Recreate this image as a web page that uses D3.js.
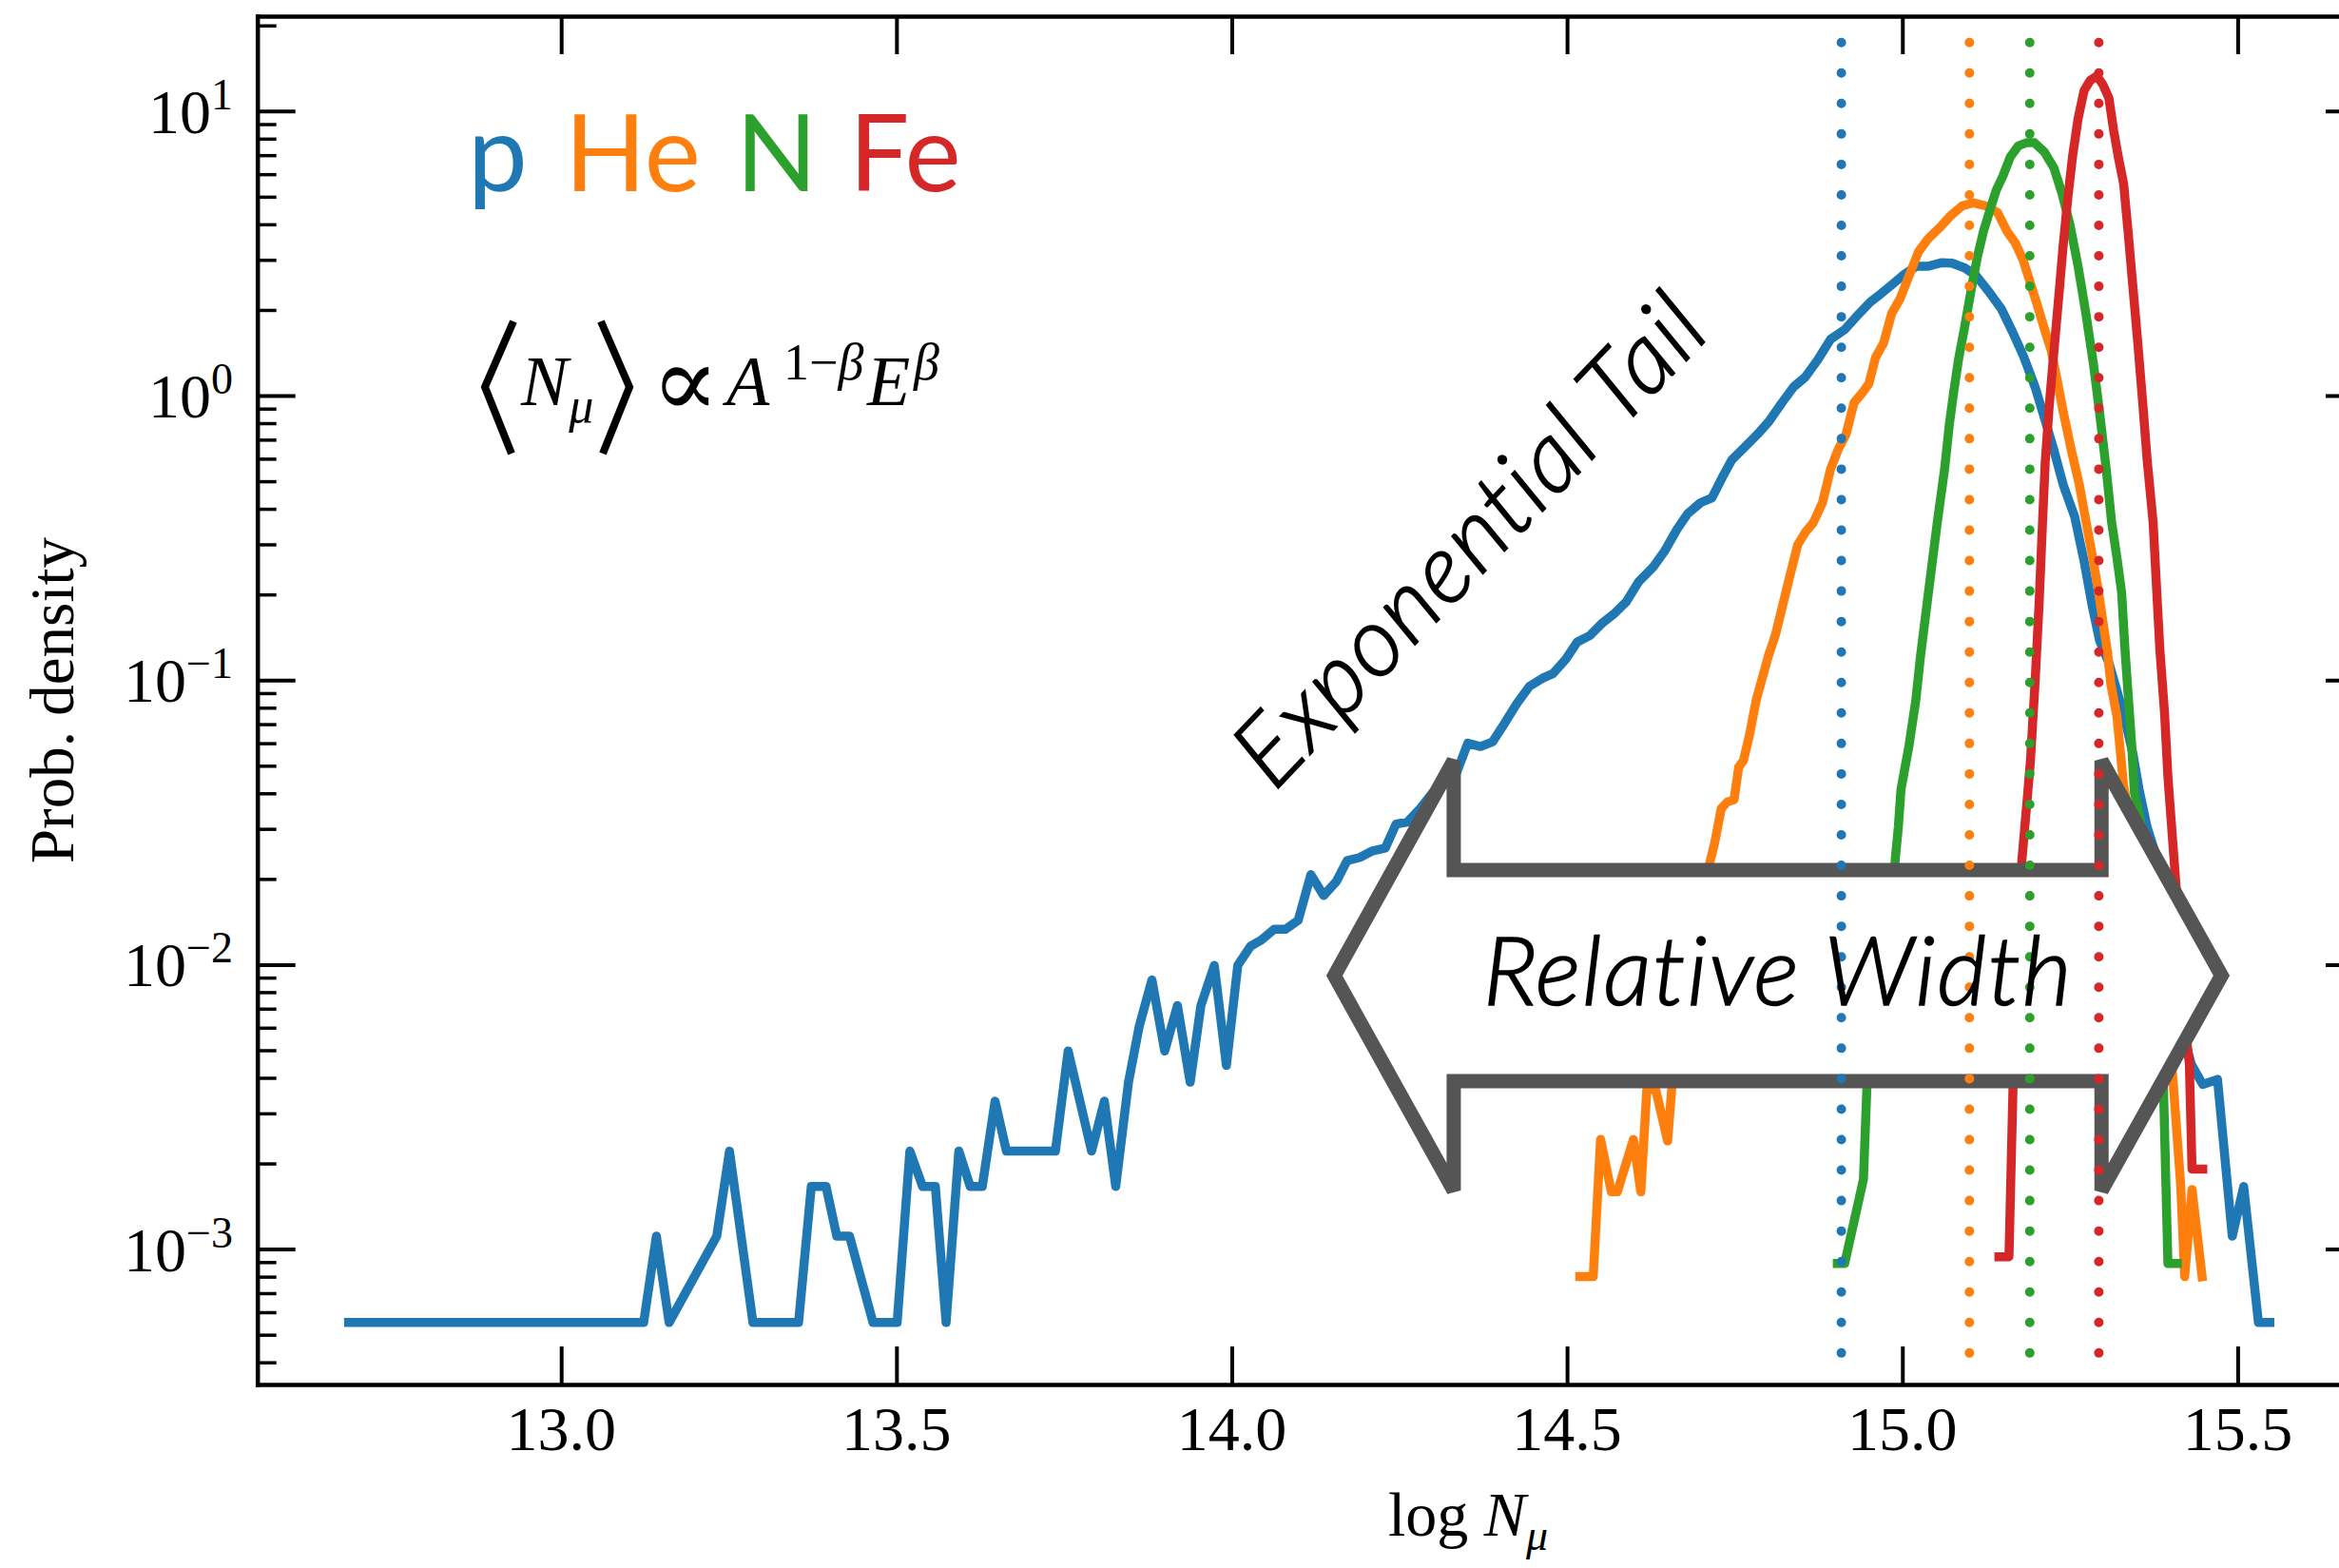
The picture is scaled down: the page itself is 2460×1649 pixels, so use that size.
<!DOCTYPE html>
<html>
<head>
<meta charset="utf-8">
<script src="https://d3js.org/d3.v7.min.js"></script>
<style>
html,body{margin:0;padding:0;background:#fff;overflow:hidden;}
svg{display:block;}
.serif{font-family:"Liberation Serif","Times New Roman",serif;}
.sans{font-family:Lato,"Open Sans",sans-serif;}
</style>
</head>
<body>
<svg id="chart" width="2460" height="1649"></svg>
<script>
// ---------------- data ----------------
const pX = [12.683,13.123,13.142,13.161,13.232,13.251,13.286,13.354,13.373,13.395,13.411,13.430,13.465,13.501,13.520,13.539,13.558,13.574,13.593,13.610,13.628,13.647,13.664,13.737,13.756,13.791,13.810,13.827,13.846,13.862,13.881,13.900,13.919,13.938,13.954,13.974,13.992,14.009,14.028,14.044,14.063,14.080,14.099,14.118,14.137,14.156,14.172,14.191,14.210,14.229,14.245,14.262,14.281,14.300,14.316,14.333,14.352,14.371,14.389,14.406,14.425,14.444,14.463,14.479,14.498,14.515,14.534,14.553,14.571,14.588,14.607,14.628,14.645,14.664,14.680,14.699,14.716,14.733,14.746,14.765,14.784,14.801,14.819,14.838,14.855,14.874,14.893,14.914,14.931,14.952,14.968,14.985,15.003,15.021,15.039,15.058,15.074,15.093,15.110,15.129,15.148,15.164,15.181,15.198,15.212,15.226,15.240,15.257,15.271,15.283,15.294,15.308,15.320,15.332,15.344,15.353,15.365,15.384,15.408,15.431,15.448,15.470,15.492,15.509,15.531,15.548];
const pY = [5.52e-4,5.52e-4,1.11e-3,5.52e-4,1.11e-3,2.21e-3,5.52e-4,5.52e-4,1.66e-3,1.66e-3,1.11e-3,1.11e-3,5.52e-4,5.52e-4,2.21e-3,1.66e-3,1.66e-3,5.52e-4,2.21e-3,1.66e-3,1.66e-3,3.31e-3,2.21e-3,2.21e-3,4.97e-3,2.21e-3,3.31e-3,1.66e-3,3.86e-3,6.07e-3,8.83e-3,4.97e-3,7.18e-3,3.86e-3,7.18e-3,9.94e-3,4.42e-3,9.94e-3,0.0116,0.0122,0.0133,0.0133,0.0143,0.0207,0.0175,0.0196,0.0232,0.0238,0.0251,0.0257,0.0312,0.0317,0.0354,0.0403,0.0446,0.0458,0.060,0.0584,0.0607,0.070,0.0826,0.0951,0.1014,0.1054,0.1183,0.136,0.1434,0.159,0.1717,0.188,0.222,0.249,0.283,0.339,0.385,0.42,0.437,0.524,0.596,0.660,0.731,0.811,0.933,1.074,1.16,1.337,1.578,1.705,1.89,2.13,2.28,2.46,2.67,2.85,2.85,2.93,2.92,2.81,2.64,2.32,2.01,1.68,1.37,1.07,0.832,0.643,0.485,0.375,0.262,0.183,0.138,0.115,0.0916,0.0727,0.0548,0.0413,0.0304,0.022,0.007,4.46e-3,3.79e-3,3.95e-3,1.11e-3,1.66e-3,5.52e-4,5.52e-4];

const heX = [14.519,14.539,14.550,14.566,14.575,14.599,14.610,14.619,14.632,14.650,14.660,14.675,14.692,14.713,14.720,14.730,14.739,14.749,14.756,14.763,14.772,14.782,14.800,14.811,14.833,14.844,14.855,14.867,14.881,14.893,14.905,14.916,14.928,14.940,14.950,14.960,14.972,14.984,14.997,15.009,15.024,15.038,15.056,15.072,15.089,15.106,15.125,15.142,15.156,15.168,15.180,15.189,15.201,15.212,15.222,15.231,15.240,15.252,15.264,15.274,15.283,15.292,15.299,15.306,15.311,15.320,15.325,15.330,15.340,15.355,15.370,15.385,15.403,15.415,15.421,15.432,15.447];
const heY = [8.0e-4,8.0e-4,2.43e-3,1.59e-3,1.59e-3,2.43e-3,1.59e-3,3.65e-3,3.65e-3,2.4e-3,4.8e-3,8e-3,0.014,0.0229,0.0267,0.0354,0.0373,0.038,0.0495,0.0521,0.064,0.085,0.121,0.145,0.236,0.299,0.33,0.357,0.421,0.552,0.652,0.731,0.945,1.02,1.10,1.36,1.53,1.94,2.20,2.60,3.2,3.55,3.90,4.29,4.64,4.76,4.64,4.40,3.78,3.45,3.00,2.57,2.09,1.71,1.44,1.13,0.875,0.643,0.485,0.36,0.276,0.208,0.161,0.125,0.0964,0.0746,0.0562,0.0424,0.032,0.022,0.013,0.008,4.1e-3,1.69e-3,8.0e-4,1.62e-3,8.0e-4];

const nX = [14.903,14.914,14.942,14.947,14.960,14.975,14.989,14.994,14.998,15.010,15.020,15.027,15.040,15.052,15.063,15.070,15.077,15.084,15.093,15.103,15.112,15.121,15.131,15.140,15.150,15.161,15.173,15.185,15.197,15.212,15.226,15.238,15.250,15.262,15.273,15.285,15.294,15.304,15.312,15.320,15.327,15.332,15.337,15.342,15.346,15.356,15.370,15.388,15.396,15.410];
const nY = [8.9e-4,8.9e-4,1.76e-3,3.65e-3,7e-3,0.013,0.0229,0.0304,0.0413,0.059,0.0848,0.121,0.213,0.357,0.552,0.79,1.047,1.35,1.75,2.38,3.08,3.78,4.52,5.27,5.92,6.90,7.55,7.74,7.74,7.17,6.31,5.14,3.98,2.85,1.99,1.29,0.875,0.552,0.36,0.269,0.203,0.128,0.087,0.0592,0.0403,0.0312,0.015,5e-3,8.9e-4,8.9e-4];

const feX = [15.144,15.159,15.165,15.178,15.185,15.191,15.198,15.204,15.209,15.213,15.219,15.226,15.233,15.240,15.247,15.254,15.262,15.271,15.280,15.290,15.299,15.308,15.315,15.322,15.330,15.337,15.344,15.351,15.358,15.365,15.374,15.379,15.384,15.391,15.396,15.403,15.408,15.415,15.422,15.428,15.432,15.448];
const feY = [9.4e-4,9.4e-4,3.7e-3,0.0229,0.0354,0.052,0.099,0.188,0.357,0.58,0.92,1.43,2.20,3.41,5.01,6.99,9.39,11.8,12.8,13.3,12.4,11.1,8.58,6.90,5.55,3.68,2.38,1.54,0.97,0.596,0.357,0.213,0.128,0.0765,0.0458,0.0274,0.0191,0.010,6e-3,4.47e-3,1.91e-3,1.91e-3];

// mean positions (dotted vertical lines)
const species = ["p","He","N","Fe"];
const colors = ["#1f77b4","#ff7f0e","#2ca02c","#d62728"];
const meanX = [14.909,15.100,15.190,15.293];
const vlineY = [17.42, 4.31e-4];

// axis ticks
const xTicks = [13.0,13.5,14.0,14.5,15.0,15.5];
const xTickLabels = ["13.0","13.5","14.0","14.5","15.0","15.5"];
const yMajor = [1e-3,1e-2,1e-1,1,10];
const yExp = ["\u22123","\u22122","\u22121","0","1"];
const yMinor = [];
[-4,-3,-2,-1,0,1].forEach(e=>{for(let m=2;m<=9;m++){yMinor.push(m*Math.pow(10,e));}});

// double arrow annotation (data coords)
const arrowXs = [14.153,14.331,15.297,15.476];        // tipL, notchL, notchR, tipR
const arrowYs = [0.05208,0.02149,0.009146,0.003893,0.001606]; // barbTop, shaftTop, center, shaftBottom, barbBottom

// ---------------- scales ----------------
const xDomain = [12.547,15.688];
const yDomain = [3.343e-4,21.56];
const L=270.7, R=2486, T=17, B=1456;
const x = d3.scaleLinear().domain(xDomain).range([L,R]);
const y = d3.scaleLog().domain(yDomain).range([B,T]);

const svg = d3.select("#chart");
svg.append("rect").attr("width",2460).attr("height",1649).attr("fill","#fff");
svg.append("defs").append("clipPath").attr("id","clip")
  .append("rect").attr("x",L).attr("y",T).attr("width",R-L).attr("height",B-T);

const line = d3.line().x(d=>x(d[0])).y(d=>y(d[1]));
const series = [[pX,pY],[heX,heY],[nX,nY],[feX,feY]];
const gLines = svg.append("g").attr("clip-path","url(#clip)");
series.forEach((s,i)=>{
  const pts = s[0].map((v,j)=>[v,s[1][j]]);
  gLines.append("path").datum(pts).attr("d",line)
    .attr("fill","none").attr("stroke",colors[i]).attr("stroke-width",9.5)
    .attr("stroke-linejoin","round").attr("stroke-linecap","square");
});

// arrow
const [tL,nL,nR,tR] = arrowXs;
const [bt,st,c,sb,bb] = arrowYs;
const arrowPts = [[tL,c],[nL,bt],[nL,st],[nR,st],[nR,bt],[tR,c],[nR,bb],[nR,sb],[nL,sb],[nL,bb]];
svg.append("path").attr("d", d3.line().x(d=>x(d[0])).y(d=>y(d[1]))(arrowPts)+"Z")
  .attr("fill","#fff").attr("stroke","#555555").attr("stroke-width",15)
  .attr("stroke-linejoin","miter").attr("stroke-miterlimit",2);

// dotted vertical lines
meanX.forEach((m,i)=>{
  svg.append("path").attr("d", line([[m,vlineY[0]],[m,vlineY[1]]]))
    .attr("stroke",colors[i]).attr("stroke-width",10).attr("stroke-linecap","round")
    .attr("stroke-dasharray","0 32.05").attr("fill","none");
});

// axes
function styleAxis(g, w){
  g.selectAll(".domain").attr("stroke","#000").attr("stroke-width",4.5).attr("stroke-linecap","square");
  g.selectAll(".tick line").attr("stroke","#000").attr("stroke-width",w);
  g.selectAll("text").remove();
}
const gb = svg.append("g").attr("transform",`translate(0,${B})`)
  .call(d3.axisBottom(x).tickValues(xTicks).tickSize(-40).tickSizeOuter(0).tickFormat(""));
styleAxis(gb,4);
const gt = svg.append("g").attr("transform",`translate(0,${T})`)
  .call(d3.axisTop(x).tickValues(xTicks).tickSize(-40).tickSizeOuter(0).tickFormat(""));
styleAxis(gt,4);
const gl = svg.append("g").attr("transform",`translate(${L},0)`)
  .call(d3.axisLeft(y).tickValues(yMajor).tickSize(-40).tickSizeOuter(0).tickFormat(""));
styleAxis(gl,4);
const glm = svg.append("g").attr("transform",`translate(${L},0)`)
  .call(d3.axisLeft(y).tickValues(yMinor.filter(v=>v>=yDomain[0]&&v<=yDomain[1])).tickSize(-20).tickSizeOuter(0).tickFormat(""));
styleAxis(glm,3.5); glm.select(".domain").remove();
const gr = svg.append("g").attr("transform",`translate(${R},0)`)
  .call(d3.axisRight(y).tickValues(yMajor).tickSize(-40).tickSizeOuter(0).tickFormat(""));
styleAxis(gr,4);
const grm = svg.append("g").attr("transform",`translate(${R},0)`)
  .call(d3.axisRight(y).tickValues(yMinor.filter(v=>v>=yDomain[0]&&v<=yDomain[1])).tickSize(-20).tickSizeOuter(0).tickFormat(""));
styleAxis(grm,3.5); grm.select(".domain").remove();

// tick labels
svg.append("g").selectAll("text").data(xTicks).join("text")
  .attr("class","serif").attr("x",d=>x(d)).attr("y",1525).attr("text-anchor","middle")
  .attr("font-size",66).attr("fill","#000").text((d,i)=>xTickLabels[i]);
const yl = svg.append("g").selectAll("text").data(yMajor).join("text")
  .attr("class","serif").attr("x",245).attr("y",d=>y(d)+23).attr("text-anchor","end")
  .attr("font-size",66).attr("fill","#000");
yl.append("tspan").text("10");
yl.append("tspan").attr("font-size",46).attr("dy",-25).text((d,i)=>yExp[i]);

// axis labels
svg.append("text").attr("class","serif").attr("font-size",65)
  .attr("transform",`translate(77,${(T+B)/2}) rotate(-90)`).attr("text-anchor","middle")
  .text("Prob. density");
const xl = svg.append("text").attr("class","serif").attr("font-size",66).attr("x",1460).attr("y",1615);
xl.append("tspan").text("log ");
xl.append("tspan").attr("font-style","italic").text("N");
xl.append("tspan").attr("font-style","italic").attr("font-size",46).attr("dy",15).text("\u03bc");

// legend of species
const legX = [492,594,774,893];
species.forEach((s,i)=>{
  svg.append("text").attr("class","sans").attr("x",legX[i]).attr("y",201)
    .attr("font-size",112).attr("font-weight",400).attr("fill",colors[i]).text(s);
});

// formula  <N_mu> ∝ A^{1-β} E^β
svg.append("path").attr("d","M540,338L510,407L538,477").attr("fill","none").attr("stroke","#000").attr("stroke-width",8);
svg.append("path").attr("d","M632,338L662,407L634,477").attr("fill","none").attr("stroke","#000").attr("stroke-width",8);
const fz = svg.append("g").attr("class","serif").attr("fill","#000");
const nmu = fz.append("text").attr("x",548).attr("y",426).attr("font-size",74).attr("font-style","italic");
nmu.append("tspan").text("N");
nmu.append("tspan").attr("font-size",52).attr("dx",1).attr("dy",18).text("\u03bc");
fz.append("text").attr("x",685).attr("y",438).attr("font-size",106).attr("font-family","DejaVu Serif").text("\u221d");
fz.append("text").attr("x",764).attr("y",426).attr("font-size",74).attr("font-style","italic").text("A");
const sup = fz.append("text").attr("x",824).attr("y",399).attr("font-size",54);
sup.append("tspan").text("1\u2212");
sup.append("tspan").attr("font-style","italic").text("\u03b2");
const eb = fz.append("text").attr("x",912).attr("y",426).attr("font-size",74).attr("font-style","italic");
eb.append("tspan").text("E");
eb.append("tspan").attr("font-size",54).attr("x",961).attr("y",399).text("\u03b2");

// annotations
svg.append("text").attr("class","sans").attr("font-size",102).attr("font-style","italic")
  .attr("font-weight",300).attr("letter-spacing",1.5)
  .attr("stroke","#000").attr("stroke-width",1.6)
  .attr("text-anchor","end").attr("transform","translate(1802,350) rotate(-46.3)")
  .text("Exponential Tail");
svg.append("text").attr("class","sans").attr("font-size",101).attr("font-style","italic")
  .attr("font-weight",300).attr("letter-spacing",1.5)
  .attr("stroke","#000").attr("stroke-width",1.6)
  .attr("text-anchor","middle").attr("x",1870).attr("y",1057)
  .text("Relative Width");
</script>
</body>
</html>
